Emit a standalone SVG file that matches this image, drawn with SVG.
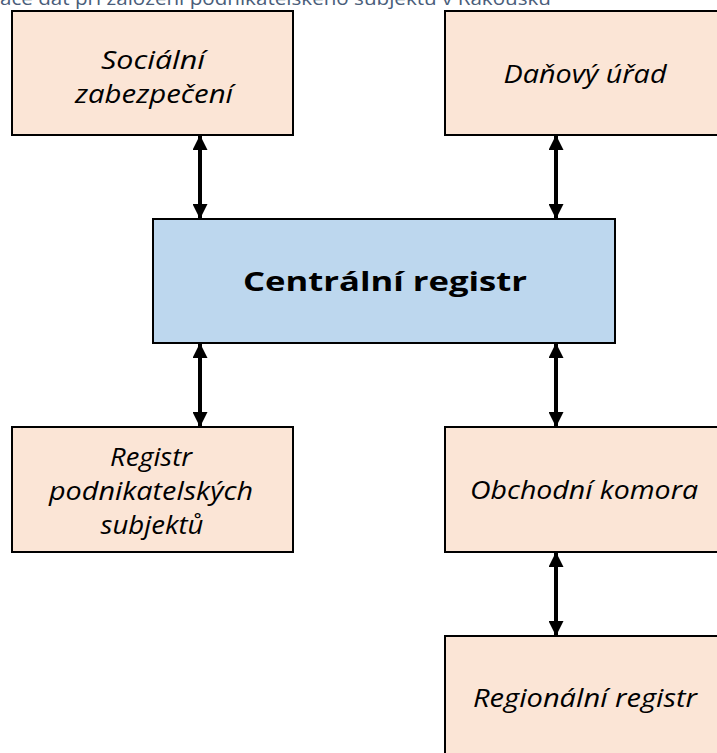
<svg xmlns="http://www.w3.org/2000/svg" width="717" height="753" viewBox="0 0 717 753">
<style>
.box{fill:#FBE5D6;stroke:#000;stroke-width:2}
.central{fill:#BDD7EE;stroke:#000;stroke-width:2}
.lbl{font-family:"Open Sans","Noto Sans",sans-serif;font-style:italic;font-size:25px;fill:#000;text-anchor:middle}
.bold{font-family:"Open Sans","Noto Sans",sans-serif;font-weight:bold;font-size:27px;fill:#000;text-anchor:middle}
.title{font-family:"Open Sans","Noto Sans",sans-serif;font-size:18px;fill:#4A5D7A}
.conn{stroke:#000;stroke-width:4;fill:none;marker-start:url(#ah);marker-end:url(#ah)}
</style>
<defs>
<marker id="ah" markerUnits="userSpaceOnUse" viewBox="0 0 15 15" refX="14" refY="7.5" markerWidth="15" markerHeight="15" orient="auto-start-reverse">
<path d="M0,0 L15,7.5 L0,15 Z" fill="#000"/>
</marker>
</defs>
<rect width="717" height="753" fill="#fff"/>
<text class="title" x="0" y="5" textLength="551" lengthAdjust="spacingAndGlyphs">ace dat při založení podnikatelského subjektu v Rakousku</text>
<g id="connectors">
<line class="conn" x1="200" y1="136" x2="200" y2="218"/>
<line class="conn" x1="556" y1="136" x2="556" y2="218"/>
<line class="conn" x1="200" y1="344" x2="200" y2="426"/>
<line class="conn" x1="556" y1="344" x2="556" y2="426"/>
<line class="conn" x1="556" y1="553" x2="556" y2="635"/>
</g>
<g id="socialni">
<rect class="box" x="12" y="11" width="281" height="124"/>
<text class="lbl" x="153" y="69" textLength="104" lengthAdjust="spacingAndGlyphs">Sociální</text>
<text class="lbl" x="154" y="103" textLength="158" lengthAdjust="spacingAndGlyphs">zabezpečení</text>
</g>
<g id="danovy">
<rect class="box" x="445" y="11" width="281" height="124"/>
<text class="lbl" x="585" y="83" textLength="163" lengthAdjust="spacingAndGlyphs">Daňový úřad</text>
</g>
<g id="centralni">
<rect class="central" x="153" y="219" width="462" height="124"/>
<text class="bold" x="385" y="291" textLength="284" lengthAdjust="spacingAndGlyphs">Centrální registr</text>
</g>
<g id="registr-podnikatelskych">
<rect class="box" x="12" y="427" width="281" height="125"/>
<text class="lbl" x="151" y="466" textLength="82" lengthAdjust="spacingAndGlyphs">Registr</text>
<text class="lbl" x="151" y="500" textLength="204" lengthAdjust="spacingAndGlyphs">podnikatelských</text>
<text class="lbl" x="152" y="534" textLength="103" lengthAdjust="spacingAndGlyphs">subjektů</text>
</g>
<g id="obchodni">
<rect class="box" x="445" y="427" width="281" height="125"/>
<text class="lbl" x="584" y="499" textLength="228" lengthAdjust="spacingAndGlyphs">Obchodní komora</text>
</g>
<g id="regionalni">
<rect class="box" x="445" y="636" width="281" height="125"/>
<text class="lbl" x="585" y="707" textLength="224" lengthAdjust="spacingAndGlyphs">Regionální registr</text>
</g>
</svg>
